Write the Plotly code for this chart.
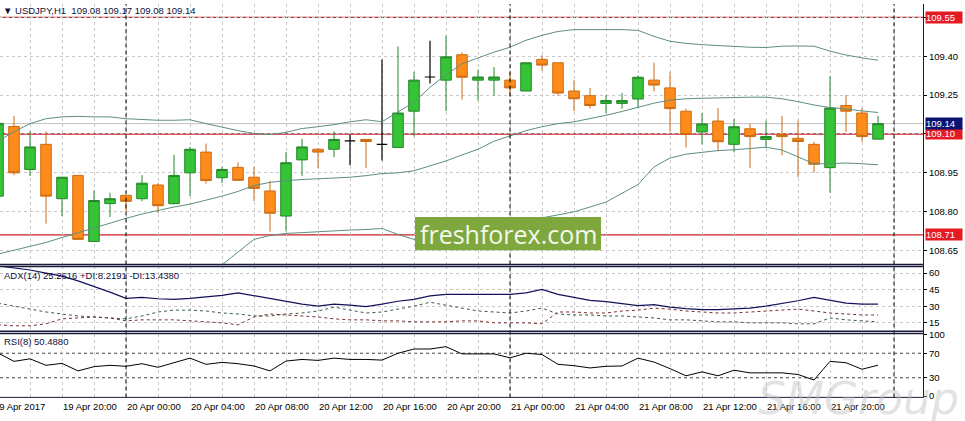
import plotly.graph_objects as go

W, H = 965, 421

# ---------------- data ----------------
bar_idx = list(range(56))  # hourly bars, 19 Apr 16:00 ... 21 Apr 23:00

open_ = [108.860, 109.129, 108.963, 109.060, 108.850, 108.940, 108.685, 108.831, 108.863, 108.850,
         108.903, 108.831, 108.950, 109.030, 108.931, 108.971, 108.933, 108.880, 108.783, 109.000,
         109.041, 109.041, 109.073, 109.079, 109.060, 109.048, 109.188, 109.320, 109.308, 109.406,
         109.308, 109.308, 109.308, 109.266, 109.388, 109.375, 109.266, 109.248, 109.218, 109.218,
         109.235, 109.308, 109.278, 109.188, 109.108, 109.150, 109.060, 109.120, 109.079, 109.098,
         109.083, 109.060, 108.970, 109.210, 109.181, 109.080]
high = [109.150, 109.170, 109.110, 109.110, 108.935, 108.940, 108.881, 108.873, 108.863, 108.941,
        108.910, 109.020, 109.050, 109.063, 108.973, 108.990, 108.973, 108.919, 109.031, 109.081,
        109.045, 109.110, 109.098, 109.080, 109.388, 109.438, 109.339, 109.460, 109.479, 109.416,
        109.348, 109.358, 109.338, 109.375, 109.404, 109.375, 109.308, 109.278, 109.250, 109.258,
        109.326, 109.376, 109.338, 109.198, 109.181, 109.200, 109.158, 109.139, 109.151, 109.170,
        109.151, 109.070, 109.323, 109.250, 109.200, 109.170]
low = [108.840, 108.941, 108.938, 108.754, 108.783, 108.690, 108.684, 108.779, 108.804, 108.840,
       108.795, 108.828, 108.860, 108.908, 108.910, 108.920, 108.841, 108.723, 108.723, 108.938,
       108.969, 109.010, 108.979, 108.969, 108.998, 109.048, 109.091, 109.295, 109.188, 109.233,
       109.229, 109.248, 109.245, 109.266, 109.345, 109.248, 109.188, 109.198, 109.180, 109.198,
       109.200, 109.264, 109.110, 109.048, 109.060, 109.033, 109.029, 108.969, 109.048, 109.018,
       108.933, 108.950, 108.873, 109.108, 109.070, 109.080]
close = [109.141, 108.950, 109.050, 108.860, 108.933, 108.693, 108.843, 108.850, 108.840, 108.910,
         108.823, 108.940, 109.041, 108.920, 108.963, 108.921, 108.890, 108.794, 108.989, 109.050,
         109.030, 109.079, 109.073, 109.071, 109.060, 109.181, 109.308, 109.320, 109.398, 109.319,
         109.320, 109.320, 109.278, 109.375, 109.366, 109.258, 109.236, 109.210, 109.229, 109.229,
         109.319, 109.289, 109.198, 109.098, 109.139, 109.070, 109.128, 109.090, 109.090, 109.090,
         109.071, 108.983, 109.200, 109.188, 109.090, 109.140]

bb_upper = [109.072, 109.109, 109.140, 109.159, 109.166, 109.168, 109.166, 109.166, 109.159, 109.155,
            109.153, 109.153, 109.155, 109.140, 109.125, 109.113, 109.102, 109.098, 109.106, 109.121,
            109.128, 109.136, 109.147, 109.155, 109.147, 109.185, 109.223, 109.280, 109.329, 109.371,
            109.394, 109.416, 109.435, 109.462, 109.481, 109.496, 109.503, 109.503, 109.503, 109.503,
            109.500, 109.477, 109.458, 109.450, 109.445, 109.441, 109.438, 109.435, 109.434, 109.439,
            109.440, 109.439, 109.420, 109.405, 109.394, 109.385]
bb_mid = [108.636, 108.651, 108.666, 108.681, 108.700, 108.719, 108.738, 108.757, 108.774, 108.791,
          108.806, 108.818, 108.829, 108.844, 108.860, 108.878, 108.901, 108.913, 108.920, 108.924,
          108.927, 108.930, 108.933, 108.939, 108.947, 108.950, 108.958, 108.977, 108.996, 109.019,
          109.041, 109.072, 109.094, 109.113, 109.128, 109.140, 109.147, 109.159, 109.172, 109.187,
          109.202, 109.219, 109.231, 109.236, 109.238, 109.240, 109.242, 109.242, 109.242, 109.236,
          109.225, 109.212, 109.202, 109.197, 109.189, 109.183]
bb_lower = [108.200, 108.193, 108.193, 108.204, 108.234, 108.270, 108.310, 108.348, 108.390, 108.428,
            108.460, 108.483, 108.503, 108.549, 108.594, 108.644, 108.693, 108.708, 108.716, 108.719,
            108.723, 108.727, 108.729, 108.731, 108.735, 108.712, 108.693, 108.674, 108.663, 108.666,
            108.689, 108.727, 108.753, 108.765, 108.776, 108.788, 108.799, 108.818, 108.837, 108.871,
            108.905, 108.973, 109.007, 109.022, 109.030, 109.036, 109.039, 109.045, 109.049, 109.038,
            109.011, 108.985, 108.985, 108.988, 108.985, 108.981]

adx = [66.5, 64.8, 62.8, 60.0, 57.3, 52.9, 48.0, 42.8, 37.2, 38.0,
       36.8, 36.3, 37.2, 38.5, 39.9, 42.1, 39.4, 37.2, 34.5, 31.9,
       30.1, 31.9, 31.0, 29.7, 31.9, 34.5, 36.3, 39.4, 40.7, 40.7,
       40.7, 40.7, 40.7, 42.1, 45.2, 40.7, 38.0, 35.4, 34.1, 32.3,
       30.5, 31.4, 29.2, 27.9, 27.0, 27.0, 27.4, 28.3, 30.1, 32.3,
       35.0, 38.1, 35.4, 32.8, 31.9, 31.9]
plus_di = [32.8, 30.1, 27.4, 24.8, 23.0, 21.2, 20.3, 19.4, 18.6, 21.2,
           24.8, 26.5, 26.5, 25.7, 23.9, 23.0, 21.2, 21.2, 23.0, 23.9,
           25.7, 29.2, 26.5, 23.9, 24.8, 27.4, 30.1, 33.6, 31.0, 28.3,
           25.7, 24.8, 23.9, 25.7, 28.3, 23.0, 22.1, 22.1, 21.2, 21.2,
           20.3, 19.4, 17.7, 17.7, 16.8, 15.9, 15.9, 15.0, 15.0, 15.0,
           14.1, 14.1, 19.4, 17.7, 16.8, 15.9]
minus_di = [13.2, 12.3, 12.3, 14.1, 18.6, 19.4, 20.3, 19.4, 16.8, 17.7,
            17.7, 17.7, 16.8, 15.9, 15.0, 13.2, 20.3, 23.0, 22.1, 21.2,
            20.3, 18.6, 17.7, 17.7, 16.8, 16.8, 15.9, 15.9, 15.9, 16.8,
            16.8, 15.0, 15.0, 15.0, 14.1, 24.8, 24.8, 23.9, 23.9, 25.7,
            26.5, 28.3, 27.4, 25.7, 24.8, 23.9, 23.9, 24.8, 25.7, 26.5,
            27.4, 25.7, 23.9, 23.0, 22.1, 22.1]
rsi = [70.5, 56.7, 60.9, 50.3, 53.5, 41.2, 48.1, 50.3, 48.7, 52.9,
       47.1, 55.1, 62.0, 51.9, 55.1, 52.9, 49.2, 41.2, 57.2, 59.9,
       58.3, 62.0, 59.9, 59.9, 58.8, 70.0, 76.9, 76.9, 80.7, 68.9,
       68.9, 68.9, 62.5, 70.0, 67.9, 51.9, 49.7, 46.0, 48.7, 49.2,
       62.0, 55.6, 44.9, 33.2, 39.6, 33.2, 42.3, 38.0, 38.0, 38.0,
       35.3, 26.3, 56.7, 54.5, 43.9, 50.5]

tick_idx = [0, 4, 8, 12, 16, 20, 24, 28, 32, 36, 40, 44, 48, 52]
tick_labels = ["19 Apr 2017", "19 Apr 20:00", "20 Apr 00:00", "20 Apr 04:00", "20 Apr 08:00",
               "20 Apr 12:00", "20 Apr 16:00", "20 Apr 20:00", "21 Apr 00:00", "21 Apr 04:00",
               "21 Apr 08:00", "21 Apr 12:00", "21 Apr 16:00", "21 Apr 20:00"]
day_separators = [8, 32, 56]
red_levels = [109.55, 109.10, 108.71]
price_ticks = [108.65, 108.80, 108.95, 109.10, 109.25, 109.40, 109.55]
price_ticktext = ["108.65", "108.80", "108.95", "", "109.25", "109.40", ""]
adx_ticks = [15, 30, 45, 60]
rsi_ticks = [0, 30, 70, 100]
rsi_levels = [70, 30]
header = "\u25BC USDJPY,H1  109.08 109.17 109.08 109.14"
adx_title = "ADX(14) 25.2616 +DI:8.2191 -DI:13.4380"
rsi_title = "RSI(8) 50.4880"

# ---------------- styling ----------------
FONT = "Liberation Sans, Arial, sans-serif"
GREEN, GREEN_EDGE = "#35c435", "#23862a"
ORANGE, ORANGE_EDGE = "#ff8c1a", "#cc6a12"
BB = "#5e8f80"
GRID = "#c8c8c8"
RED = "#cc1e28"
NAVY = "#12125a"
BORDER = "#1c1c3c"
X_RANGE = [0.125, 57.8125]


def fx(px):
    return px / W


def fy(py):
    return 1 - py / H


fig = go.Figure()

# candles
reg = [i for i in bar_idx if open_[i] != close[i]]
doj = [i for i in bar_idx if open_[i] == close[i]]
fig.add_trace(go.Candlestick(
    x=reg, open=[open_[i] for i in reg], high=[high[i] for i in reg],
    low=[low[i] for i in reg], close=[close[i] for i in reg],
    increasing=dict(fillcolor=GREEN, line=dict(color=GREEN_EDGE, width=1)),
    decreasing=dict(fillcolor=ORANGE, line=dict(color=ORANGE_EDGE, width=1)),
    whiskerwidth=0, hoverinfo="skip", xaxis="x", yaxis="y"))
fig.add_trace(go.Candlestick(
    x=doj, open=[open_[i] for i in doj], high=[high[i] for i in doj],
    low=[low[i] for i in doj], close=[close[i] for i in doj],
    increasing=dict(fillcolor="black", line=dict(color="black", width=1.2)),
    decreasing=dict(fillcolor="black", line=dict(color="black", width=1.2)),
    whiskerwidth=0, hoverinfo="skip", xaxis="x", yaxis="y"))

for band in (bb_upper, bb_mid, bb_lower):
    fig.add_trace(go.Scatter(x=bar_idx, y=band, mode="lines",
                             line=dict(color=BB, width=1), hoverinfo="skip",
                             xaxis="x", yaxis="y"))

# ADX pane
fig.add_trace(go.Scatter(x=bar_idx, y=adx, mode="lines", line=dict(color=NAVY, width=1.2),
                         hoverinfo="skip", xaxis="x2", yaxis="y2"))
fig.add_trace(go.Scatter(x=bar_idx, y=plus_di, mode="lines",
                         line=dict(color="#3d5a45", width=1, dash="3px,3px"),
                         hoverinfo="skip", xaxis="x2", yaxis="y2"))
fig.add_trace(go.Scatter(x=bar_idx, y=minus_di, mode="lines",
                         line=dict(color="#7a3030", width=1, dash="3px,3px"),
                         hoverinfo="skip", xaxis="x2", yaxis="y2"))

# RSI pane
fig.add_trace(go.Scatter(x=bar_idx, y=rsi, mode="lines", line=dict(color="black", width=1),
                         hoverinfo="skip", xaxis="x3", yaxis="y3"))

xcommon = dict(range=X_RANGE, showticklabels=False, showgrid=True, gridcolor=GRID,
               griddash="3px,3px", gridwidth=1, dtick=2, tick0=0, zeroline=False, ticks="",
               showline=False, fixedrange=True, domain=[0, fx(923)])
ycommon = dict(side="right", showgrid=True, gridcolor=GRID, griddash="3px,3px", zeroline=False,
               ticks="outside", ticklen=3, tickcolor="black", showline=False,
               tickfont=dict(size=9.5, color="black", family=FONT), fixedrange=True)

fig.update_layout(
    width=W, height=H, margin=dict(l=0, r=0, t=0, b=0),
    paper_bgcolor="white", plot_bgcolor="white", showlegend=False,
    font=dict(family=FONT, size=9.5, color="black"),
    boxgap=0.34, boxgroupgap=0,
    xaxis=dict(anchor="y", rangeslider=dict(visible=False), **xcommon),
    xaxis2=dict(anchor="y2", matches="x", **xcommon),
    xaxis3=dict(anchor="y3", matches="x", **xcommon),
    yaxis=dict(anchor="x", domain=[fy(265), 1], range=[108.598, 109.602],
               tickvals=price_ticks, ticktext=price_ticktext, **ycommon),
    yaxis2=dict(anchor="x2", domain=[fy(333), fy(267)], range=[7.91, 66.48],
                tickvals=adx_ticks, **ycommon),
    yaxis3=dict(anchor="x3", domain=[fy(401), fy(336)], range=[-2, 102],
                tickvals=rsi_ticks, **{**ycommon, "showgrid": False}),
)

shapes = []
for lv in red_levels:
    shapes.append(dict(type="line", xref="x domain", yref="y", x0=0, x1=1, y0=lv, y1=lv,
                       line=dict(color=RED, width=1.3), layer="below"))
shapes.append(dict(type="line", xref="x domain", yref="y", x0=0, x1=1, y0=close[-1], y1=close[-1],
                   line=dict(color="#c0c0c0", width=1), layer="below"))
for lv in rsi_levels:
    shapes.append(dict(type="line", xref="x3 domain", yref="y3", x0=0, x1=1, y0=lv, y1=lv,
                       line=dict(color="#404040", width=1, dash="3px,3px"), layer="below"))
for s in day_separators:
    shapes.append(dict(type="line", xref="x", yref="paper", x0=s, x1=s, y0=fy(401), y1=1,
                       line=dict(color="black", width=1, dash="4px,3px"), layer="above"))
for py, w in ((265.5, 1.5), (267.5, 1.5), (333.5, 1.5), (335.8, 1.5), (401, 1)):
    shapes.append(dict(type="line", xref="paper", yref="paper", x0=0, x1=fx(924), y0=fy(py), y1=fy(py),
                       line=dict(color=BORDER, width=w), layer="above"))
shapes.append(dict(type="line", xref="paper", yref="paper", x0=fx(923.5), x1=fx(923.5), y0=fy(401), y1=1,
                   line=dict(color=BORDER, width=1), layer="above"))
shapes.append(dict(type="rect", xref="paper", yref="paper", x0=fx(415), x1=fx(601), y0=fy(251), y1=fy(217),
                   fillcolor="#7ea83e", line=dict(width=0), layer="above"))
fig.update_layout(shapes=shapes)

ann = []
ann.append(dict(text=header, xref="paper", yref="paper", x=fx(1), y=fy(7), xanchor="left",
                yanchor="middle", showarrow=False, font=dict(size=9.5, color="#10103a")))
ann.append(dict(text=adx_title, xref="paper", yref="paper", x=fx(2), y=fy(276.5), xanchor="left",
                yanchor="middle", showarrow=False, font=dict(size=9.5, color="#10103a")))
ann.append(dict(text=rsi_title, xref="paper", yref="paper", x=fx(2), y=fy(344), xanchor="left",
                yanchor="middle", showarrow=False, font=dict(size=9.5, color="#10103a")))
bar_px = 923 / (X_RANGE[1] - X_RANGE[0])
for i, t in zip(tick_idx, tick_labels):
    xi = max(i, X_RANGE[0])
    shift = -1 - (xi - i) * bar_px - (5 if i == tick_idx[0] else 0)
    ann.append(dict(text=t, xref="x3", yref="paper", x=xi, y=fy(410.5), xanchor="left",
                    yanchor="middle", showarrow=False, xshift=shift, font=dict(size=9.5, color="black")))
for lv in red_levels:
    ann.append(dict(text=f"{lv:.2f}", xref="paper", yref="y", x=fx(925), y=lv, xanchor="left",
                    yanchor="middle", showarrow=False, bgcolor="#e41b23", borderpad=0, width=36,
                    height=11, align="left", font=dict(size=9.5, color="white")))
ann.append(dict(text=f"{close[-1]:.2f}", xref="paper", yref="y", x=fx(925), y=close[-1], xanchor="left",
                yanchor="middle", showarrow=False, bgcolor="#0a1470", borderpad=0, width=36,
                height=11, align="left", font=dict(size=9.5, color="white")))
ann.append(dict(text="freshforex.com", xref="paper", yref="paper", x=fx(508), y=fy(234),
                xanchor="center", yanchor="middle", showarrow=False,
                font=dict(size=25, color="#f4f8ec", family="Open Sans, sans-serif")))
ann.append(dict(text="SMGroup", xref="paper", yref="paper", x=fx(858), y=fy(402),
                xanchor="center", yanchor="middle", showarrow=False,
                font=dict(size=44, color="rgba(190,190,190,0.45)", family="DejaVu Sans", style="italic")))
fig.update_layout(annotations=ann)

fig.write_html("out.html", config={"displayModeBar": False},
               post_script="document.body.style.margin='0';document.body.style.overflow='hidden';")
